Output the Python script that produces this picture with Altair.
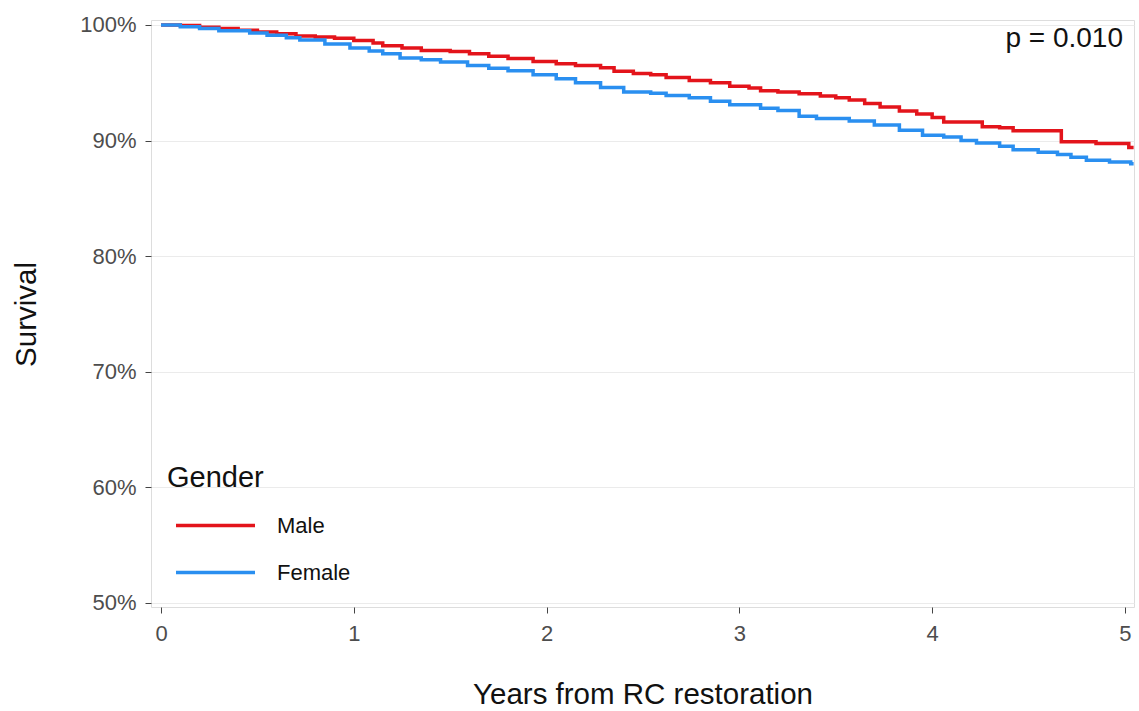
import altair as alt
import pandas as pd

# ---- data (Kaplan-Meier style step curves) ----
groups = ["Male", "Female"]
colors = ["#E3141B", "#2A8FF0"]

male_time = [0.00, 0.10, 0.20, 0.30, 0.40, 0.50, 0.60, 0.70, 0.80, 0.90,
             1.00, 1.10, 1.15, 1.25, 1.35, 1.50, 1.60, 1.70, 1.80, 1.93,
             2.05, 2.15, 2.28, 2.35, 2.45, 2.54, 2.62, 2.74, 2.85, 2.95,
             3.05, 3.11, 3.20, 3.31, 3.42, 3.50, 3.57, 3.65, 3.73, 3.83,
             3.92, 4.00, 4.06, 4.26, 4.35, 4.42, 4.67, 4.85, 5.02, 5.045]
male_surv = [1.000, 0.9995, 0.998, 0.997, 0.9955, 0.994, 0.9925, 0.9905, 0.9895, 0.9885,
             0.9865, 0.9845, 0.982, 0.980, 0.978, 0.977, 0.975, 0.973, 0.971, 0.9685,
             0.9665, 0.965, 0.963, 0.960, 0.958, 0.957, 0.9545, 0.952, 0.950, 0.947,
             0.9455, 0.943, 0.942, 0.9405, 0.9385, 0.937, 0.935, 0.932, 0.929, 0.9255,
             0.923, 0.920, 0.916, 0.912, 0.911, 0.9085, 0.899, 0.8975, 0.894, 0.894]

female_time = [0.00, 0.10, 0.20, 0.30, 0.46, 0.55, 0.65, 0.72, 0.85, 0.98,
               1.08, 1.15, 1.24, 1.35, 1.45, 1.59, 1.70, 1.80, 1.93, 2.05,
               2.15, 2.28, 2.40, 2.54, 2.62, 2.74, 2.85, 2.95, 3.11, 3.20,
               3.31, 3.40, 3.57, 3.70, 3.83, 3.95, 4.06, 4.15, 4.23, 4.35,
               4.42, 4.55, 4.65, 4.72, 4.80, 4.92, 5.03, 5.045]
female_surv = [1.000, 0.9985, 0.997, 0.995, 0.993, 0.991, 0.989, 0.987, 0.9835, 0.980,
               0.9775, 0.975, 0.9715, 0.970, 0.968, 0.965, 0.9625, 0.9605, 0.957, 0.9535,
               0.950, 0.946, 0.942, 0.941, 0.939, 0.937, 0.934, 0.931, 0.928, 0.926,
               0.921, 0.919, 0.917, 0.9135, 0.909, 0.9045, 0.903, 0.900, 0.898, 0.895,
               0.892, 0.890, 0.888, 0.8855, 0.883, 0.8815, 0.880, 0.880]

x_ticks = [0, 1, 2, 3, 4, 5]
y_ticks = [0.5, 0.6, 0.7, 0.8, 0.9, 1.0]

p_label = ["p = 0.010"]
p_pos_x = [4.99]
p_pos_y = [0.981]

# ---- build tables ----
curves = pd.concat([
    pd.DataFrame({"time": male_time, "surv": male_surv, "Gender": "Male"}),
    pd.DataFrame({"time": female_time, "surv": female_surv, "Gender": "Female"}),
], ignore_index=True)
ptext = pd.DataFrame({"x": p_pos_x, "y": p_pos_y, "label": p_label})

FONT = "Liberation Sans"

x_scale = alt.Scale(domain=[-0.052, 5.047], nice=False, zero=False)
y_scale = alt.Scale(domain=[0.4965, 1.0043], nice=False, zero=False)

lines = alt.Chart(curves).mark_line(interpolate="step-after", strokeWidth=3.5, clip=True).encode(
    x=alt.X("time:Q", scale=x_scale,
            axis=alt.Axis(title="Years from RC restoration", values=x_ticks, format="d",
                          grid=False, domain=False, tickSize=6, tickColor="#444444",
                          labelPadding=10, labelFontSize=22, labelColor="#4D4D4D",
                          labelFont=FONT, titleFont=FONT, titleFontSize=29.5,
                          titleFontWeight="normal", titleColor="#111111",
                          titleBaseline="alphabetic", titleY=96, labelFlush=False)),
    y=alt.Y("surv:Q", scale=y_scale,
            axis=alt.Axis(title="Survival", values=y_ticks, format=".0%",
                          grid=True, gridColor="#EBEBEB", gridWidth=1,
                          domain=False, tickSize=6, tickColor="#444444",
                          labelPadding=9, labelFontSize=22, labelColor="#4D4D4D",
                          labelFont=FONT, titleFont=FONT, titleFontSize=29.5,
                          titleFontWeight="normal", titleColor="#111111",
                          titleBaseline="alphabetic", titleAngle=-90,
                          titleX=-116, titleY=294, titleAlign="center", labelFlush=False)),
    color=alt.Color("Gender:N", scale=alt.Scale(domain=groups, range=colors),
                    sort=groups,
                    legend=alt.Legend(orient="none", legendX=16, legendY=444,
                                      title="Gender", titleFont=FONT, titleFontSize=29,
                                      titleFontWeight="normal", titleColor="#111111",
                                      titlePadding=9, padding=0,
                                      labelFont=FONT, labelFontSize=22, labelColor="#111111",
                                      symbolType="stroke", symbolSize=6241,
                                      symbolStrokeWidth=3.5, symbolOffset=7,
                                      labelOffset=20, clipHeight=47, rowPadding=0)),
)

ptxt = alt.Chart(ptext).mark_text(align="right", baseline="alphabetic", font=FONT,
                                   fontSize=28, color="#111111").encode(
    x=alt.X("x:Q", scale=x_scale),
    y=alt.Y("y:Q", scale=y_scale),
    text="label:N",
)

chart = alt.layer(lines, ptxt).properties(
    width=983, height=587,
    autosize=alt.AutoSizeParams(type="none"),
    padding={"left": 151, "top": 20, "right": 5, "bottom": 104},
).configure_view(stroke="#333333", strokeWidth=1.6).configure(background="white")

chart.save("out.html", embed_options={"renderer": "svg", "actions": False})
